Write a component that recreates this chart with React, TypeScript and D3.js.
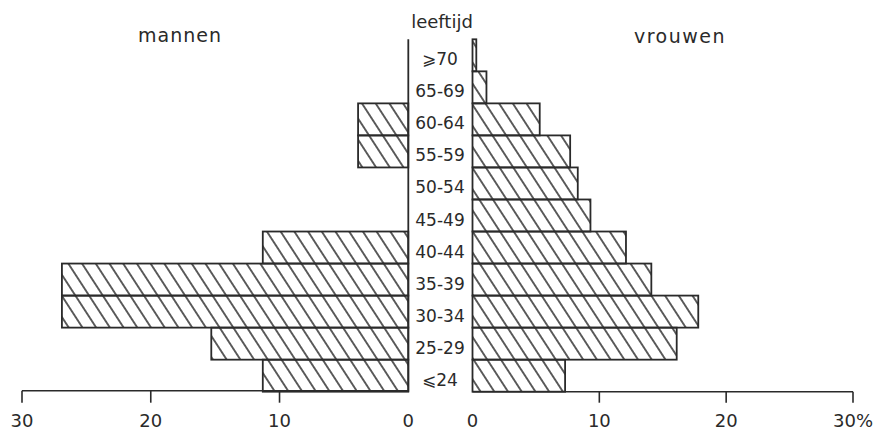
import React from "react";
import * as d3 from "d3";

const ages = ["⩾70", "65-69", "60-64", "55-59", "50-54", "45-49", "40-44", "35-39", "30-34", "25-29", "⩽24"];
const men = [0, 0, 3.9, 3.9, 0, 0, 11.3, 26.9, 26.9, 15.3, 11.3];
const women = [0.3, 1.1, 5.3, 7.7, 8.3, 9.3, 12.1, 14.1, 17.8, 16.1, 7.3];
const ticks = [0, 10, 20, 30];

const W = 879;
const H = 432;
const FONT = "'DejaVu Sans', sans-serif";
const INK = "#2a2a2a";

export default function App() {
  const xL = d3.scaleLinear().domain([0, 30]).range([408.3, 22]);
  const xR = d3.scaleLinear().domain([0, 30]).range([472.5, 853]);
  const y = d3.scaleBand<string>().domain(ages).range([39.3, 391.7]).padding(0);
  const bw = y.bandwidth();
  const base = y.range()[1];

  return (
    <svg width={W} height={H} style={{ position: "absolute", left: 0, top: 0, background: "#fff" }}>
      <defs>
        <pattern id="hatch" patternUnits="userSpaceOnUse" width={20} height={11.5} patternTransform="rotate(57)">
          <line x1={-2} y1={5.75} x2={22} y2={5.75} stroke={INK} strokeWidth={1.5} />
        </pattern>
      </defs>
      <rect x={0} y={0} width={W} height={H} fill="#fff" />

      {/* men bars */}
      {ages.map((a, i) =>
        men[i] > 0 ? (
          <rect key={"m" + a} x={xL(men[i])} y={y(a)} width={xL(0) - xL(men[i])} height={bw}
            fill="url(#hatch)" stroke={INK} strokeWidth={1.8} />
        ) : null
      )}
      {/* women bars */}
      {ages.map((a, i) =>
        women[i] > 0 ? (
          <rect key={"w" + a} x={xR(0)} y={y(a)} width={xR(women[i]) - xR(0)} height={bw}
            fill="url(#hatch)" stroke={INK} strokeWidth={1.8} />
        ) : null
      )}

      {/* left centre line */}
      <line x1={xL(0)} x2={xL(0)} y1={y.range()[0]} y2={base} stroke={INK} strokeWidth={1.8} />

      {/* axes */}
      <line x1={xL(30)} x2={xL(0)} y1={base - 1} y2={base - 1} stroke={INK} strokeWidth={1.6} />
      <line x1={xR(0)} x2={xR(30)} y1={base} y2={base} stroke={INK} strokeWidth={1.6} />
      {ticks.filter(t => t > 0).map(t => (
        <line key={"lt" + t} x1={xL(t)} x2={xL(t)} y1={base - 1} y2={base + 11} stroke={INK} strokeWidth={1.6} />
      ))}
      {ticks.filter(t => t > 0).map(t => (
        <line key={"rt" + t} x1={xR(t)} x2={xR(t)} y1={base} y2={base + 11} stroke={INK} strokeWidth={1.6} />
      ))}
      {ticks.map(t => (
        <text key={"ll" + t} x={xL(t)} y={427} textAnchor="middle" fontFamily={FONT} fontSize={18} fill={INK}>{t}</text>
      ))}
      {ticks.map(t => (
        <text key={"rl" + t} x={xR(t)} y={427} textAnchor="middle" fontFamily={FONT} fontSize={18} fill={INK}>
          {t === 30 ? t + "%" : t}
        </text>
      ))}

      {/* age labels */}
      {ages.map(a => (
        <text key={"a" + a} x={440} y={(y(a) as number) + bw / 2 + 10} textAnchor="middle"
          fontFamily={FONT} fontSize={17} fill={INK}>{a}</text>
      ))}

      {/* titles */}
      <text x={442} y={28} textAnchor="middle" fontFamily={FONT} fontSize={18} fill={INK}>leeftijd</text>
      <text x={180} y={42} textAnchor="middle" fontFamily={FONT} fontSize={19} letterSpacing={1} fill={INK}>mannen</text>
      <text x={680} y={43} textAnchor="middle" fontFamily={FONT} fontSize={19} letterSpacing={1.5} fill={INK}>vrouwen</text>
    </svg>
  );
}
